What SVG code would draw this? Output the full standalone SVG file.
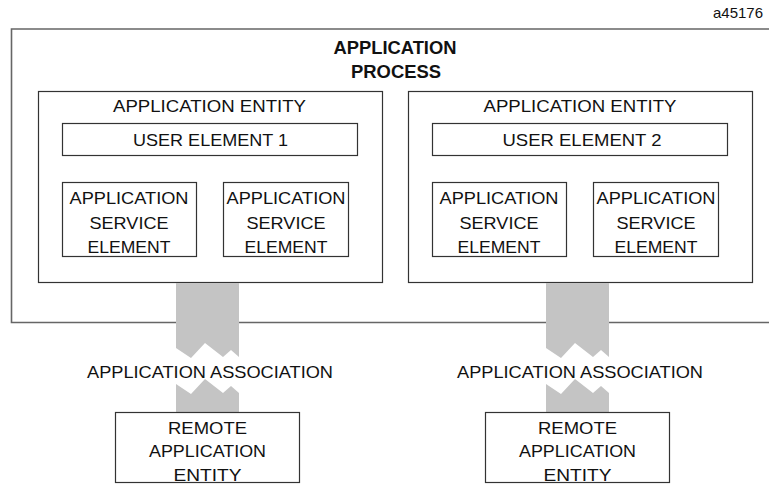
<svg xmlns="http://www.w3.org/2000/svg" width="769" height="485" viewBox="0 0 769 485">
<style>
text{font-family:"Liberation Sans",Arial,sans-serif;font-size:17px;fill:#111;text-anchor:middle}
.b{font-weight:bold;font-size:17.5px}
.box{fill:#fff;stroke:#333;stroke-width:1.2}
.outer{fill:none;stroke:#666;stroke-width:1.6}
.band{fill:#c4c4c4;stroke:none}
.id{font-size:15px;text-anchor:end}
</style>
<rect width="769" height="485" fill="#fff"/>
<text class="id" x="763" y="18" textLength="50" lengthAdjust="spacingAndGlyphs">a45176</text>
<g id="process">
<path class="outer" d="M769,29 H11.5 V322.5 H769"/>
<text class="b" x="395" y="54" textLength="123" lengthAdjust="spacingAndGlyphs">APPLICATION</text>
<text class="b" x="396" y="78" textLength="90" lengthAdjust="spacingAndGlyphs">PROCESS</text>
</g>
<g id="entity1">
<rect class="box" x="38.5" y="91.5" width="344" height="191"/>
<text x="209.5" y="112" textLength="193" lengthAdjust="spacingAndGlyphs">APPLICATION ENTITY</text>
<g id="user1">
<rect class="box" x="62.5" y="123.5" width="295" height="32"/>
<text x="210.5" y="146" textLength="155" lengthAdjust="spacingAndGlyphs">USER ELEMENT 1</text>
</g>
<g id="ase1">
<rect class="box" x="62.5" y="182.5" width="134" height="74"/>
<text x="129" y="204" textLength="119" lengthAdjust="spacingAndGlyphs">APPLICATION</text>
<text x="129" y="229" textLength="79" lengthAdjust="spacingAndGlyphs">SERVICE</text>
<text x="129" y="253" textLength="83" lengthAdjust="spacingAndGlyphs">ELEMENT</text>
</g>
<g id="ase2">
<rect class="box" x="223.5" y="182.5" width="125" height="74"/>
<text x="286" y="204" textLength="119" lengthAdjust="spacingAndGlyphs">APPLICATION</text>
<text x="286" y="229" textLength="79" lengthAdjust="spacingAndGlyphs">SERVICE</text>
<text x="286" y="253" textLength="83" lengthAdjust="spacingAndGlyphs">ELEMENT</text>
</g>
</g>
<g id="entity2">
<rect class="box" x="408.5" y="91.5" width="344" height="191"/>
<text x="580" y="112" textLength="193" lengthAdjust="spacingAndGlyphs">APPLICATION ENTITY</text>
<g id="user2">
<rect class="box" x="432.5" y="123.5" width="295" height="32"/>
<text x="582" y="146" textLength="159" lengthAdjust="spacingAndGlyphs">USER ELEMENT 2</text>
</g>
<g id="ase3">
<rect class="box" x="432.5" y="182.5" width="134" height="74"/>
<text x="499" y="204" textLength="119" lengthAdjust="spacingAndGlyphs">APPLICATION</text>
<text x="499" y="229" textLength="79" lengthAdjust="spacingAndGlyphs">SERVICE</text>
<text x="499" y="253" textLength="83" lengthAdjust="spacingAndGlyphs">ELEMENT</text>
</g>
<g id="ase4">
<rect class="box" x="593.5" y="182.5" width="125" height="74"/>
<text x="656" y="204" textLength="119" lengthAdjust="spacingAndGlyphs">APPLICATION</text>
<text x="656" y="229" textLength="79" lengthAdjust="spacingAndGlyphs">SERVICE</text>
<text x="656" y="253" textLength="83" lengthAdjust="spacingAndGlyphs">ELEMENT</text>
</g>
</g>
<g id="connectors">
<g id="assoc1">
<path class="band" d="M176,283 H239 V357 L231,350 L223,357 L205,343 L191,358 L176,348 Z"/>
<path class="band" d="M176,384 L191,394 L205,379 L223,393 L231,386 L239,393 V412 H176 Z"/>
<text x="210" y="378" textLength="246" lengthAdjust="spacingAndGlyphs">APPLICATION ASSOCIATION</text>
</g>
<g id="assoc2">
<path class="band" d="M546,283 H609 V357 L601,350 L593,357 L575,343 L561,358 L546,348 Z"/>
<path class="band" d="M546,384 L561,394 L575,379 L593,393 L601,386 L609,393 V412 H546 Z"/>
<text x="580" y="378" textLength="246" lengthAdjust="spacingAndGlyphs">APPLICATION ASSOCIATION</text>
</g>
</g>
<g id="remote1">
<rect class="box" x="115.5" y="412.5" width="184" height="70"/>
<text x="207.5" y="434" textLength="79" lengthAdjust="spacingAndGlyphs">REMOTE</text>
<text x="207.5" y="457" textLength="117" lengthAdjust="spacingAndGlyphs">APPLICATION</text>
<text x="207.5" y="481" textLength="68" lengthAdjust="spacingAndGlyphs">ENTITY</text>
</g>
<g id="remote2">
<rect class="box" x="485.5" y="412.5" width="184" height="70"/>
<text x="577.5" y="434" textLength="79" lengthAdjust="spacingAndGlyphs">REMOTE</text>
<text x="577.5" y="457" textLength="117" lengthAdjust="spacingAndGlyphs">APPLICATION</text>
<text x="577.5" y="481" textLength="68" lengthAdjust="spacingAndGlyphs">ENTITY</text>
</g>
</svg>
